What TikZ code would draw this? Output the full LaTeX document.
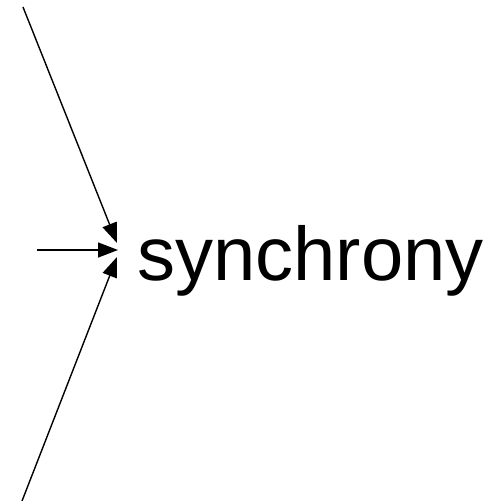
\documentclass[tikz,border=0pt]{standalone}
\usepackage{fontspec}
\setmainfont{Liberation Sans}
\usetikzlibrary{arrows.meta}
\tikzset{
  conn/.style={line width=1.4pt,-{Triangle[length=20pt,width=15pt]}},
  lbl/.style={inner sep=0pt,font=\fontsize{76}{82}\selectfont}
}
\begin{document}
\begin{tikzpicture}[x=1pt,y=-1pt]
\useasboundingbox (0,0) rectangle (492,501);
\coordinate (a) at (23,7);
\coordinate (b) at (37,250);
\coordinate (c) at (22,501);
\coordinate (ta) at (117,243);
\coordinate (tb) at (118,250);
\coordinate (tc) at (117,257);
\node[lbl,anchor=base west] (s) at (137,280) {synchrony};
\draw[conn] (a) -- (ta);
\draw[conn] (b) -- (tb);
\draw[conn] (c) -- (tc);
\end{tikzpicture}
\end{document}
